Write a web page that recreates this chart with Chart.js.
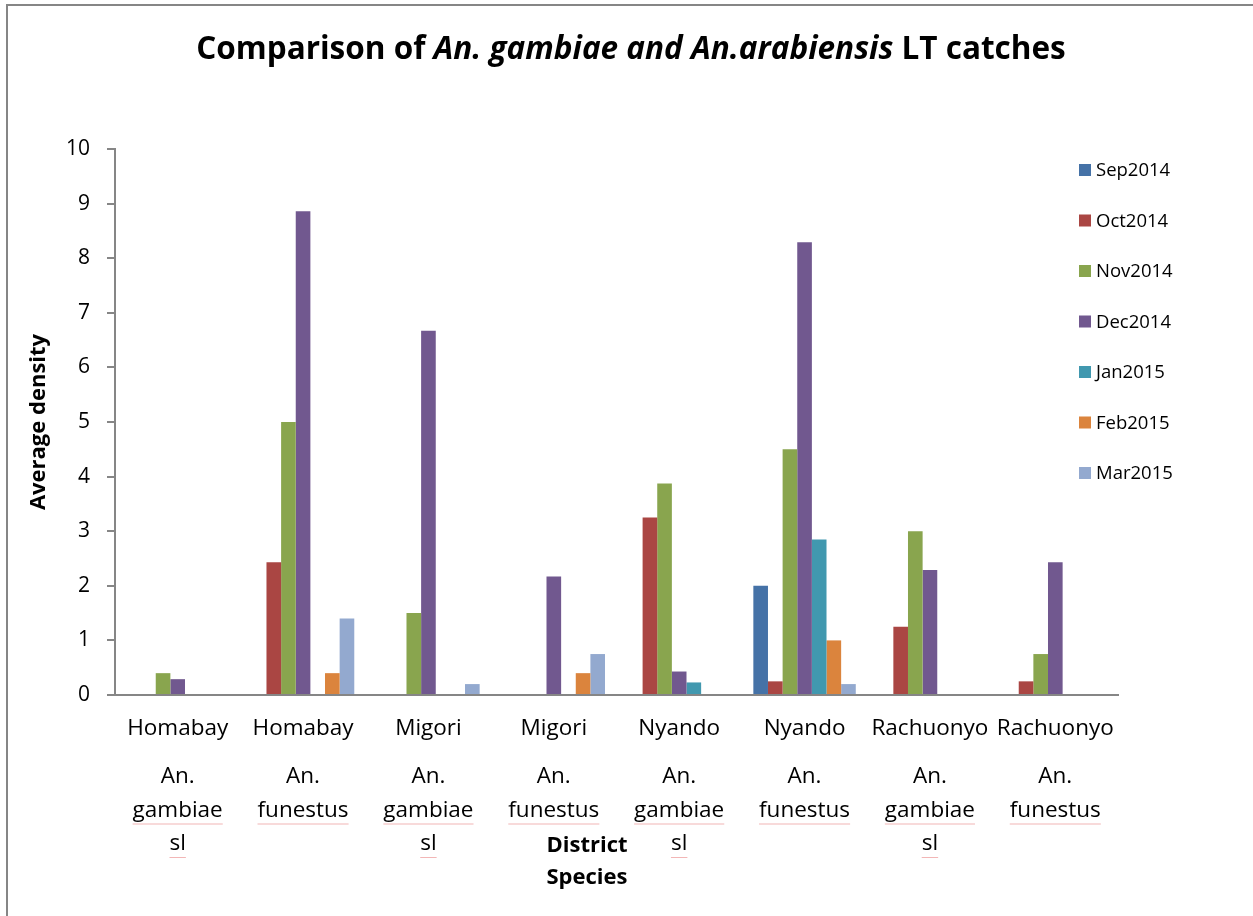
<!DOCTYPE html>
<html>
<head>
<meta charset="utf-8">
<script src="https://cdn.jsdelivr.net/npm/chart.js@4.4.0/dist/chart.umd.min.js"></script>
<style>
  html, body { margin: 0; padding: 0; background: #ffffff; overflow: hidden; }
  canvas { display: block; }
</style>
</head>
<body>
<canvas id="chart" width="1253" height="916"></canvas>
<script>
// Categories: district (first row) and species (rows beneath)
const districts = ["Homabay", "Homabay", "Migori", "Migori", "Nyando", "Nyando", "Rachuonyo", "Rachuonyo"];
const species = [
  ["An.", "gambiae", "sl"],
  ["An.", "funestus"],
  ["An.", "gambiae", "sl"],
  ["An.", "funestus"],
  ["An.", "gambiae", "sl"],
  ["An.", "funestus"],
  ["An.", "gambiae", "sl"],
  ["An.", "funestus"]
];

// Average density per month, one value per category
const months = ["Sep2014", "Oct2014", "Nov2014", "Dec2014", "Jan2015", "Feb2015", "Mar2015"];
const sep2014 = [0, 0, 0, 0, 0, 2.0, 0, 0];
const oct2014 = [0, 2.43, 0, 0, 3.25, 0.25, 1.25, 0.25];
const nov2014 = [0.4, 5.0, 1.5, 0, 3.875, 4.5, 3.0, 0.75];
const dec2014 = [0.29, 8.86, 6.67, 2.17, 0.43, 8.29, 2.29, 2.43];
const jan2015 = [0, 0, 0, 0, 0.23, 2.85, 0, 0];
const feb2015 = [0, 0.4, 0, 0.4, 0, 1.0, 0, 0];
const mar2015 = [0, 1.4, 0.2, 0.75, 0, 0.2, 0, 0];
const monthValues = [sep2014, oct2014, nov2014, dec2014, jan2015, feb2015, mar2015];
const monthColors = ["#4572A7", "#AA4643", "#89A54E", "#71588F", "#4198AF", "#DB843D", "#93A9CF"];

// Axis range and texts
const yMin = 0;
const yMax = 10;
const yStep = 1;
const yTitle = "Average density";
const xTitle = ["District", "Species"];
const titleParts = [
  { text: "Comparison of ", italic: false },
  { text: "An. gambiae and An.arabiensis", italic: true },
  { text: " LT catches", italic: false }
];
const underlinedWords = ["gambiae", "funestus", "sl"];

const FONT = "'Open Sans', Lato, sans-serif";
const AXIS_GRAY = "#868686";
const LABEL_SIZE = 22.5;

// Draws the frame, title, legend, species rows and x-axis title
const decorations = {
  id: "decorations",
  afterDraw(chart) {
    const ctx = chart.ctx;
    const xs = chart.scales.x;
    ctx.save();

    // outer frame
    ctx.strokeStyle = AXIS_GRAY;
    ctx.lineWidth = 2;
    ctx.beginPath();
    ctx.moveTo(7, 916);
    ctx.lineTo(7, 5);
    ctx.lineTo(1253, 5);
    ctx.stroke();

    // title with italic species names
    ctx.fillStyle = "#000";
    ctx.textBaseline = "alphabetic";
    ctx.textAlign = "left";
    const tSize = 31.5;
    const fontFor = p => (p.italic ? "italic " : "") + "bold " + tSize + "px " + FONT;
    let total = 0;
    titleParts.forEach(p => { ctx.font = fontFor(p); total += ctx.measureText(p.text).width; });
    let tx = 631 - total / 2;
    titleParts.forEach(p => {
      ctx.font = fontFor(p);
      ctx.fillText(p.text, tx, 59);
      tx += ctx.measureText(p.text).width;
    });

    // legend
    ctx.font = "18.5px " + FONT;
    ctx.textBaseline = "middle";
    chart.data.datasets.forEach((ds, i) => {
      const cy = 170 + i * 50.5;
      ctx.fillStyle = ds.backgroundColor;
      ctx.fillRect(1079, cy - 6, 12, 12);
      ctx.fillStyle = "#000";
      ctx.fillText(ds.label, 1096, cy + 1);
    });

    // species rows under each district label
    ctx.font = LABEL_SIZE + "px " + FONT;
    ctx.textAlign = "center";
    species.forEach((lines, i) => {
      const cx = xs.getPixelForValue(i);
      lines.forEach((word, j) => {
        const cy = 777 + j * 33.5;
        ctx.fillStyle = "#000";
        ctx.fillText(word, cx, cy);
        if (underlinedWords.includes(word)) {
          const w = ctx.measureText(word).width;
          ctx.strokeStyle = "rgba(230, 110, 110, 0.5)";
          ctx.lineWidth = 1;
          ctx.beginPath();
          ctx.moveTo(cx - w / 2, cy + 13.5);
          ctx.lineTo(cx + w / 2, cy + 13.5);
          ctx.stroke();
        }
      });
    });

    // x-axis title
    ctx.font = "bold 22px " + FONT;
    ctx.fillStyle = "#000";
    xTitle.forEach((line, j) => ctx.fillText(line, 587, 846 + j * 32));

    ctx.restore();
  }
};

new Chart(document.getElementById("chart"), {
  type: "bar",
  data: {
    labels: districts,
    datasets: months.map((m, i) => ({
      label: m,
      data: monthValues[i],
      backgroundColor: monthColors[i],
      borderWidth: 0,
      categoryPercentage: 0.817,
      barPercentage: 1.0
    }))
  },
  options: {
    responsive: false,
    animation: false,
    devicePixelRatio: 1,
    layout: { padding: { top: 149, right: 135, left: 0, bottom: 0 } },
    plugins: {
      legend: { display: false },
      title: { display: false },
      tooltip: { enabled: false }
    },
    scales: {
      x: {
        grid: { display: false, drawTicks: false },
        border: { display: true, color: AXIS_GRAY, width: 2 },
        ticks: {
          color: "#000",
          font: { family: FONT, size: LABEL_SIZE },
          padding: 20.5,
          maxRotation: 0,
          autoSkip: false
        },
        afterFit: s => { s.height = 221; }
      },
      y: {
        min: yMin,
        max: yMax,
        ticks: {
          stepSize: yStep,
          color: "#000",
          font: { family: FONT, size: 21 },
          padding: 17
        },
        grid: {
          display: true,
          drawOnChartArea: false,
          drawTicks: true,
          tickLength: 8,
          color: AXIS_GRAY,
          lineWidth: 2
        },
        border: { display: true, color: AXIS_GRAY, width: 2 },
        title: {
          display: true,
          text: yTitle,
          color: "#000",
          font: { family: FONT, size: 22, weight: "bold" },
          padding: { top: 26, bottom: 0 }
        },
        afterFit: s => { s.width = 115; }
      }
    }
  },
  plugins: [decorations]
});
</script>
</body>
</html>
